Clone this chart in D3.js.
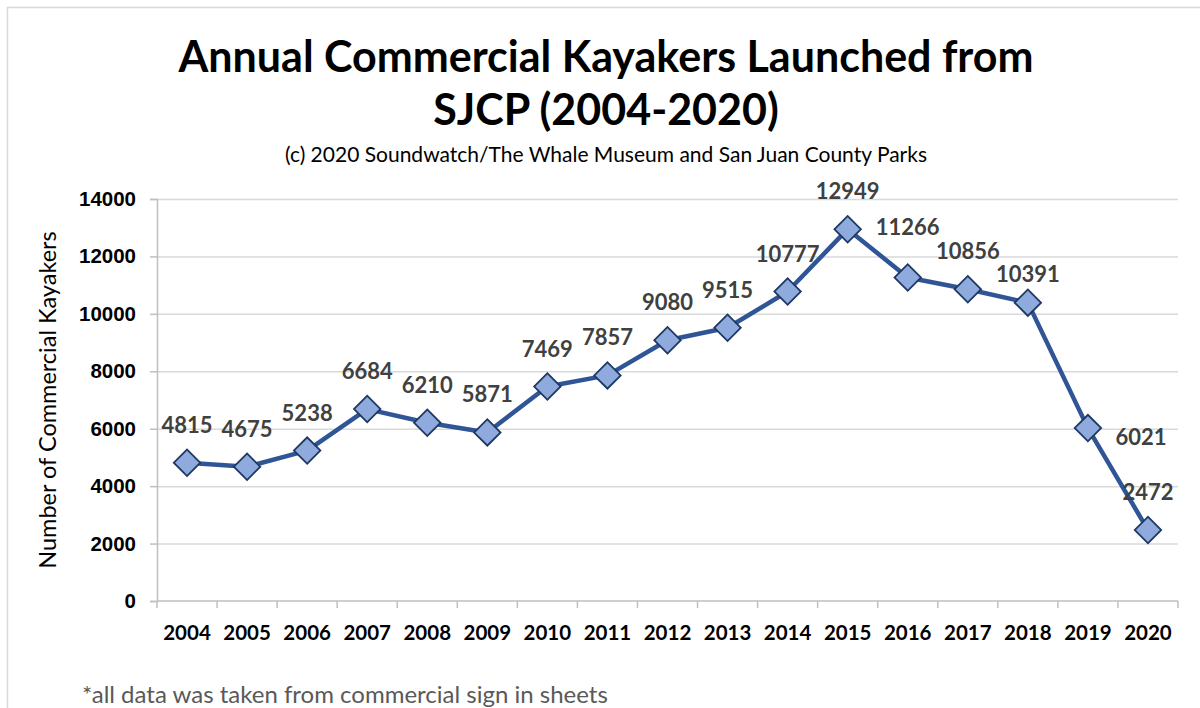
<!DOCTYPE html>
<html>
<head>
<meta charset="utf-8">
<script src="https://cdn.jsdelivr.net/npm/d3@7"></script>
<style>
  body { margin: 0; background: #fff; }
  svg { display: block; font-family: Lato, "Open Sans", sans-serif; }
</style>
</head>
<body>
<svg id="chart"></svg>
<script>
const years = ['2004','2005','2006','2007','2008','2009','2010','2011','2012','2013','2014','2015','2016','2017','2018','2019','2020'];
const kayakers = [4815, 4675, 5238, 6684, 6210, 5871, 7469, 7857, 9080, 9515, 10777, 12949, 11266, 10856, 10391, 6021, 2472];
const yTicks = [0, 2000, 4000, 6000, 8000, 10000, 12000, 14000];

(function(){
    const W = 1200, H = 708;
    const svg = d3.select('#chart').attr('width', W).attr('height', H);
    const margin = {top:199, right:22, bottom:107, left:157};
    const width = W - margin.left - margin.right;
    const height = H - margin.top - margin.bottom;

    // chart area border
    svg.append('rect').attr('x',7.5).attr('y',7.5).attr('width',W+10).attr('height',H+10)
        .attr('fill','none').attr('stroke','#d9d9d9').attr('stroke-width',1.5);

    const g = svg.append('g').attr('transform',`translate(${margin.left},${margin.top})`);

    const x = d3.scaleBand().domain(years).range([0,width]);
    const y = d3.scaleLinear().domain([0,14000]).range([height,0]);

    // gridlines
    g.append('g').selectAll('line').data(yTicks.filter(d=>d>0)).join('line')
        .attr('x1',0).attr('x2',width).attr('y1',d=>y(d)+0.5).attr('y2',d=>y(d)+0.5)
        .attr('stroke','#d9d9d9').attr('stroke-width',1.5);

    // y axis
    const yAxis = g.append('g').call(d3.axisLeft(y).tickValues(yTicks).tickSize(7).tickPadding(14).tickFormat(d3.format('d')));
    yAxis.select('.domain').attr('stroke','#bfbfbf').attr('stroke-width',1.5);
    yAxis.selectAll('.tick line').attr('stroke','#bfbfbf').attr('stroke-width',1.5);
    yAxis.selectAll('.tick text').style('font-size','20.5px').style('font-weight','bold').attr('fill','#000');

    // x axis with ticks at band edges
    const xAxisG = g.append('g').attr('transform',`translate(0,${height})`);
    xAxisG.append('line').attr('x1',0).attr('x2',width).attr('y1',0).attr('y2',0)
        .attr('stroke','#bfbfbf').attr('stroke-width',1.5);
    const edges = years.map(d=>x(d)).concat([width]);
    xAxisG.selectAll('line.edge').data(edges).join('line').attr('class','edge')
        .attr('x1',d=>d).attr('x2',d=>d).attr('y1',0).attr('y2',7)
        .attr('stroke','#bfbfbf').attr('stroke-width',1.5);
    xAxisG.selectAll('text').data(years).join('text')
        .attr('x',d=>x(d)+x.bandwidth()/2).attr('y',39)
        .attr('text-anchor','middle').style('font-size','20.5px').style('font-weight','bold')
        .attr('fill','#000').text(d=>d);

    const data = years.map((yr,i)=>({year:yr, value:kayakers[i]}));
    const cx = d => x(d.year)+x.bandwidth()/2;

    const line = d3.line().x(cx).y(d=>y(d.value));
    g.append('path').datum(data).attr('fill','none').attr('stroke','#2f5597')
        .attr('stroke-width',4.5).attr('stroke-linejoin','round').attr('d',line);

    const diamond = d3.symbol().type(d3.symbolSquare).size(350);
    g.selectAll('path.pt').data(data).join('path').attr('class','pt')
        .attr('d',diamond)
        .attr('transform',d=>`translate(${cx(d)},${y(d.value)}) rotate(45)`)
        .attr('fill','#8faadc').attr('stroke','#1f3864').attr('stroke-width',1.8);

    // data labels (a few nudged as in the original)
    const nudge = {'2016':[0,-13], '2018':[0,9], '2019':[53,47]};
    g.selectAll('text.lbl').data(data).join('text').attr('class','lbl')
        .attr('x',d=>cx(d)+(nudge[d.year]?nudge[d.year][0]:0))
        .attr('y',d=>y(d.value)-30+(nudge[d.year]?nudge[d.year][1]:0))
        .attr('text-anchor','middle').style('font-size','22px').style('font-weight','bold')
        .attr('fill','#404040').text(d=>d.value);

    // titles
    svg.append('text').attr('x',606).attr('y',72).attr('text-anchor','middle')
        .style('font-size','43px').style('font-weight','bold').attr('fill','#000')
        .text('Annual Commercial Kayakers Launched from');
    svg.append('text').attr('x',606).attr('y',125).attr('text-anchor','middle')
        .style('font-size','43px').style('font-weight','bold').attr('fill','#000')
        .text('SJCP (2004-2020)');
    svg.append('text').attr('x',606).attr('y',162).attr('text-anchor','middle')
        .style('font-size','21px').attr('fill','#000')
        .text('(c) 2020 Soundwatch/The Whale Museum and San Juan County Parks');

    // y axis title
    svg.append('text').attr('transform','rotate(-90)')
        .attr('x',-(margin.top+height/2)).attr('y',56).attr('text-anchor','middle')
        .style('font-size','23.5px').attr('fill','#000')
        .text('Number of Commercial Kayakers');

    // footnote
    svg.append('text').attr('x',82).attr('y',703)
        .style('font-size','24px').attr('fill','#595959')
        .text('*all data was taken from commercial sign in sheets');
})();
</script>
</body>
</html>
